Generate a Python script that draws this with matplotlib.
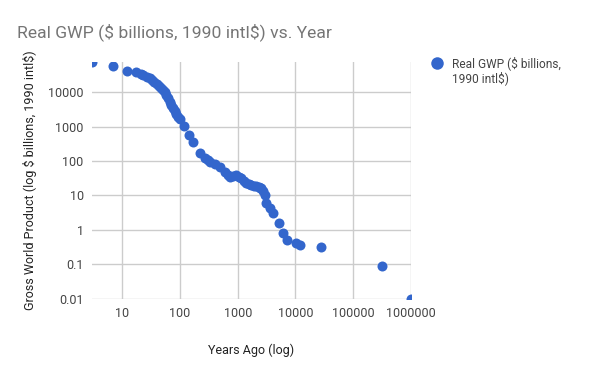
import matplotlib
matplotlib.use('Agg')
import matplotlib.pyplot as plt
from matplotlib.ticker import FixedLocator, FixedFormatter, NullLocator

plt.rcParams['font.family'] = ['Roboto', 'DejaVu Sans']
plt.rcParams['text.parse_math'] = False

# years ago and real GWP ($ billions, 1990 intl$)
years_ago = [3, 7, 12, 17, 21, 23, 27, 30, 33, 36, 40, 44, 47, 51, 54, 58,
             62, 66, 71, 76, 81, 86, 92, 99, 117, 141, 167, 219, 267, 300,
             327, 399, 487, 594, 680, 726, 830, 949, 1050, 1160, 1280, 1413,
             1560, 1725, 1900, 2108, 2300, 2400, 2570, 2750, 2950, 3140,
             3690, 4090, 5140, 6100, 7160, 10140, 12200, 27500, 310000,
             1000000]
gwp = [75000, 58000, 42000, 40000, 33500, 31900, 28500, 25600, 23000, 20400,
       17800, 15300, 13500, 11700, 10000, 8340, 6800, 5320, 4300, 3420, 2800,
       2330, 1950, 1640, 1065, 570, 356, 174, 125, 105, 95, 80, 65, 48.6, 38,
       34.7, 37, 39, 35, 31.2, 26, 22.4, 21, 20, 19.2, 18.6, 17.5, 16, 15.9,
       13.5, 10.2, 6.2, 4.18, 2.99, 1.58, 0.78, 0.50, 0.417, 0.356, 0.305,
       0.089, 0.01]

x_ticks = [10, 100, 1000, 10000, 100000, 1000000]
x_labels = ['10', '100', '1000', '10000', '100000', '1000000']
y_ticks = [0.01, 0.1, 1, 10, 100, 1000, 10000]
y_labels = ['0.01', '0.1', '1', '10', '100', '1000', '10000']

blue = '#3366cc'

fig = plt.figure(figsize=(6, 3.71), dpi=100)
ax = fig.add_axes([92 / 600, 1 - 298.5 / 371, (411 - 92) / 600, (298.5 - 62) / 371])

ax.plot(years_ago, gwp, 'o', color=blue, markersize=7.2, markeredgewidth=0,
        clip_on=True, zorder=3, label='Real GWP ($ billions,')

ax.set_xscale('log')
ax.set_yscale('log')
ax.set_xlim(3, 1000000)
ax.set_ylim(0.01, 76000)

ax.xaxis.set_major_locator(FixedLocator(x_ticks))
ax.xaxis.set_major_formatter(FixedFormatter(x_labels))
ax.xaxis.set_minor_locator(NullLocator())
ax.yaxis.set_major_locator(FixedLocator(y_ticks))
ax.yaxis.set_major_formatter(FixedFormatter(y_labels))
ax.yaxis.set_minor_locator(NullLocator())

ax.grid(True, color='#cccccc', linewidth=1)
ax.set_axisbelow(True)
for s in ax.spines.values():
    s.set_visible(False)
ax.tick_params(length=0, labelsize=9, labelcolor='#444444', pad=6)

ax.set_xlabel('Years Ago (log)', fontsize=9, color='#222222', labelpad=17)
ax.set_ylabel('Gross World Product (log $ billions, 1990 intl$)', fontsize=9,
              color='#222222', labelpad=8)

fig.text(17 / 600, 1 - 37 / 371, 'Real GWP ($ billions, 1990 intl$) vs. Year',
         fontsize=12.6, color='#757575', ha='left', va='baseline')

# legend: marker sits on the first line, the label wraps onto a second line
ax.legend(loc='upper left', bbox_to_anchor=(425 / 600, 1 - 56 / 371),
          bbox_transform=fig.transFigure, frameon=False, fontsize=8.6,
          handletextpad=0.3, borderaxespad=0, borderpad=0,
          labelcolor='#444444', markerscale=1.25)
fig.text(452 / 600, 1 - 78 / 371, '1990 intl$)', fontsize=8.6,
         color='#444444', ha='left', va='center')

fig.savefig('out.png', dpi=100)
